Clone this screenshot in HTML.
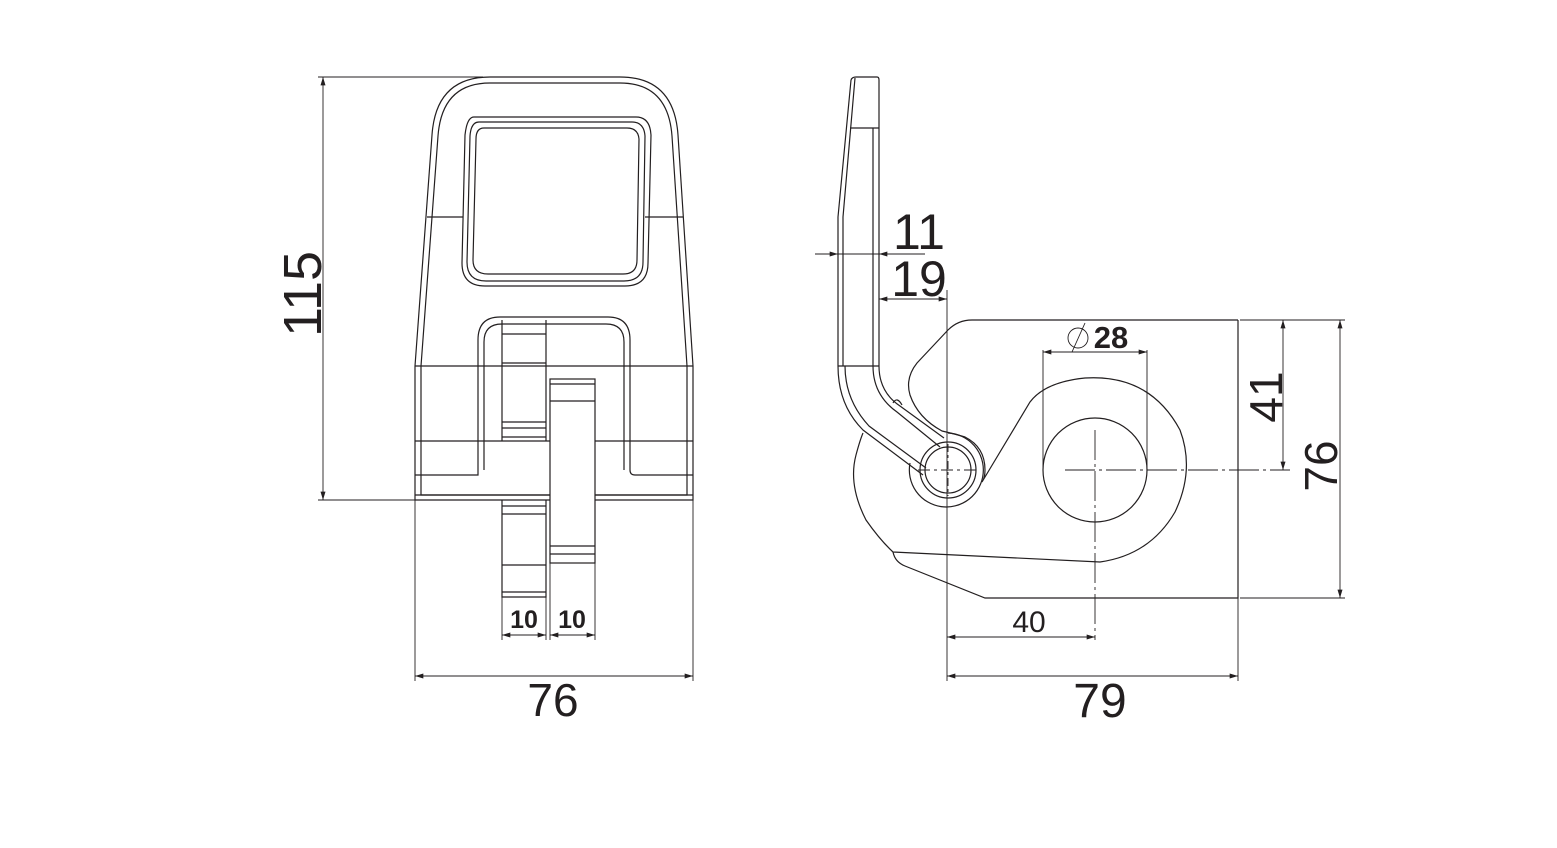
<!DOCTYPE html>
<html><head><meta charset="utf-8"><style>
html,body{margin:0;padding:0;background:#fff;}
svg{display:block;}
text{font-family:"Liberation Sans",sans-serif;fill:#231f20;}
</style></head><body>
<svg width="1557" height="848" viewBox="0 0 1557 848" xmlns="http://www.w3.org/2000/svg">
<defs>
<marker id="a" viewBox="0 0 10 6" refX="10" refY="3" markerWidth="12" markerHeight="5" orient="auto-start-reverse" markerUnits="userSpaceOnUse"><path d="M0,0 L10,3 L0,6 z" fill="#231f20"/></marker>
</defs>
<g fill="none" stroke="#231f20" stroke-width="1.2">
<!-- FRONT VIEW -->
<path d="M415,500 L415,366 L432,135 Q436,77 490,77 L620,77 Q674,77 678,135 L693,366 L693,500 Z"/>
<path d="M421,495 L421,366 L438,136 Q442,83 490,83 L620,83 Q668,83 672,136 L687,366 L687,495 Z"/>
<line x1="415" y1="366" x2="693" y2="366"/>
<line x1="415" y1="441" x2="693" y2="441"/>
<line x1="427" y1="217" x2="463" y2="217"/>
<line x1="645" y1="217" x2="683" y2="217"/>
<line x1="415" y1="495" x2="693" y2="495"/>
<path d="M474,117 L636,117 Q650,117 651,135 L648,263 Q648,286 625,286 L485,286 Q462,286 462,263 L465,135 Q467,117 474,117 Z"/>
<path d="M479,122 L632,122 Q644,122 645,136 L643,262 Q643,281 624,281 L486,281 Q467,281 467,262 L470,136 Q471,122 479,122 Z"/>
<path d="M484,128 L627,128 Q638,128 639,139 L637,260 Q637,274 623,274 L488,274 Q473,274 473,260 L476,139 Q476,128 484,128 Z"/>
<path d="M415,475 L478,475 Q478,475 478,470 L478,340 Q478,317 500,317 L608,317 Q630,317 630,340 L630,470 Q630,475 635,475 L693,475"/>
<path d="M484,470 L484,342 Q484,324 502,324 L606,324 Q624,324 624,342 L624,470"/>
<path d="M502,320 L502,441 M546,320 L546,441"/>
<path d="M502,334 L546,334 M502,363 L546,363 M502,422 L546,422 M502,428 L546,428 M502,437 L546,437"/>
<path d="M502,500 L502,597 L546,597 L546,500"/>
<path d="M502,506 L546,506 M502,514 L546,514 M502,565 L546,565 M502,592 L546,592"/>
<rect x="550" y="379" width="45" height="184" fill="#fff"/>
<path d="M550,384 L595,384 M550,401 L595,401 M550,546 L595,546 M550,554 L595,554"/>
</g>
<g fill="none" stroke="#231f20" stroke-width="0.9">
<line x1="318" y1="77" x2="483" y2="77"/>
<line x1="318" y1="500" x2="415" y2="500"/>
<line x1="323" y1="77" x2="323" y2="500" marker-start="url(#a)" marker-end="url(#a)"/>
<line x1="415" y1="500" x2="415" y2="681"/>
<line x1="693" y1="500" x2="693" y2="681"/>
<line x1="415" y1="676" x2="693" y2="676" marker-start="url(#a)" marker-end="url(#a)"/>
<line x1="502" y1="597" x2="502" y2="640"/>
<line x1="546" y1="597" x2="546" y2="640"/>
<line x1="550" y1="563" x2="550" y2="640"/>
<line x1="595" y1="563" x2="595" y2="640"/>
<line x1="502" y1="635" x2="546" y2="635" marker-start="url(#a)" marker-end="url(#a)"/>
<line x1="550" y1="635" x2="595" y2="635" marker-start="url(#a)" marker-end="url(#a)"/>
</g>
<text x="0" y="0" font-size="54" text-anchor="middle" transform="translate(321,294) rotate(-90)">115</text>
<text x="553" y="716" font-size="46" text-anchor="middle">76</text>
<text x="524" y="628" font-size="25" font-weight="bold" text-anchor="middle">10</text>
<text x="572" y="628" font-size="25" font-weight="bold" text-anchor="middle">10</text>

<!-- SIDE VIEW -->
<g fill="none" stroke="#231f20" stroke-width="1.2">
<path d="M1238,320 L972,320 Q958,320 948,330 L917,363 Q905,378 910,395 Q918,418 942,431 Q955,434 965,437 Q985,447 985,470 Q985,478 982,482 L1030,402 Q1045,382 1085,378 Q1150,374 1180,430 Q1195,470 1175,512 Q1150,555 1100,562 L893,552 Q880,540 866,520 Q848,485 856,455 Q860,440 863,433"/>
<path d="M893,552 Q895,562 905,566 L985,598 L1238,598 L1238,320"/>
<circle cx="948" cy="470" r="23"/>
<circle cx="948" cy="470" r="28"/>
<path d="M910,463 A37,37 0 1,0 948,433"/>
<path d="M851,80 Q852,77 856,77 L877,77 Q879,77 879,80 L879,366"/>
<path d="M851,80 L838,217 L838,366"/>
<path d="M855,78 L843,217 L843,366"/>
<line x1="850" y1="128" x2="879" y2="128"/>
<line x1="838" y1="366" x2="879" y2="366"/>
<line x1="873" y1="128" x2="873" y2="366"/>
<path d="M838,366 Q838,405 863,430 L923,475"/>
<path d="M845,366 Q845,400 869,426 L926,468"/>
<path d="M873,366 Q873,395 897,412 L940,447"/>
<path d="M879,366 Q879,392 900,406 L944,438"/>
<path d="M893,403 Q897,396 902,405"/>
<circle cx="1095" cy="470" r="52"/>
</g>
<g fill="none" stroke="#231f20" stroke-width="0.9">
<path d="M918,470 L976,470" stroke-dasharray="12,4,3,4"/>
<path d="M948,444 L948,496" stroke-dasharray="8,3,3,3"/>
<path d="M1065,470 L1290,470" stroke-dasharray="30,4,3,4"/>
<path d="M1095,430 L1095,640" stroke-dasharray="30,4,3,4"/>
<line x1="947" y1="290" x2="947" y2="681"/>
<line x1="1238" y1="598" x2="1238" y2="681"/>
<line x1="815" y1="254" x2="925" y2="254"/>
<line x1="820" y1="254" x2="838" y2="254" marker-end="url(#a)"/>
<line x1="900" y1="254" x2="879" y2="254" marker-end="url(#a)"/>
<line x1="879" y1="299" x2="947" y2="299" marker-start="url(#a)" marker-end="url(#a)"/>
<line x1="1043" y1="350" x2="1043" y2="470"/>
<line x1="1147" y1="350" x2="1147" y2="470"/>
<line x1="1043" y1="352" x2="1147" y2="352" marker-start="url(#a)" marker-end="url(#a)"/>
<line x1="1240" y1="320" x2="1345" y2="320"/>
<line x1="1240" y1="598" x2="1345" y2="598"/>
<line x1="1283" y1="320" x2="1283" y2="470" marker-start="url(#a)" marker-end="url(#a)"/>
<line x1="1340" y1="320" x2="1340" y2="598" marker-start="url(#a)" marker-end="url(#a)"/>
<line x1="947" y1="637" x2="1095" y2="637" marker-start="url(#a)" marker-end="url(#a)"/>
<line x1="947" y1="676" x2="1238" y2="676" marker-start="url(#a)" marker-end="url(#a)"/>
<circle cx="1078" cy="338" r="10"/>
<line x1="1072" y1="352" x2="1085" y2="323"/>
</g>
<text x="919" y="249" font-size="50" text-anchor="middle">11</text>
<text x="919" y="296" font-size="50" text-anchor="middle">19</text>
<text x="1111" y="348" font-size="31" font-weight="bold" text-anchor="middle">28</text>
<text x="1029" y="632" font-size="30" text-anchor="middle">40</text>
<text x="1100" y="717" font-size="48" text-anchor="middle">79</text>
<text x="0" y="0" font-size="46" text-anchor="middle" transform="translate(1282,397) rotate(-90)">41</text>
<text x="0" y="0" font-size="46" text-anchor="middle" transform="translate(1337,466) rotate(-90)">76</text>
</svg>
</body></html>
